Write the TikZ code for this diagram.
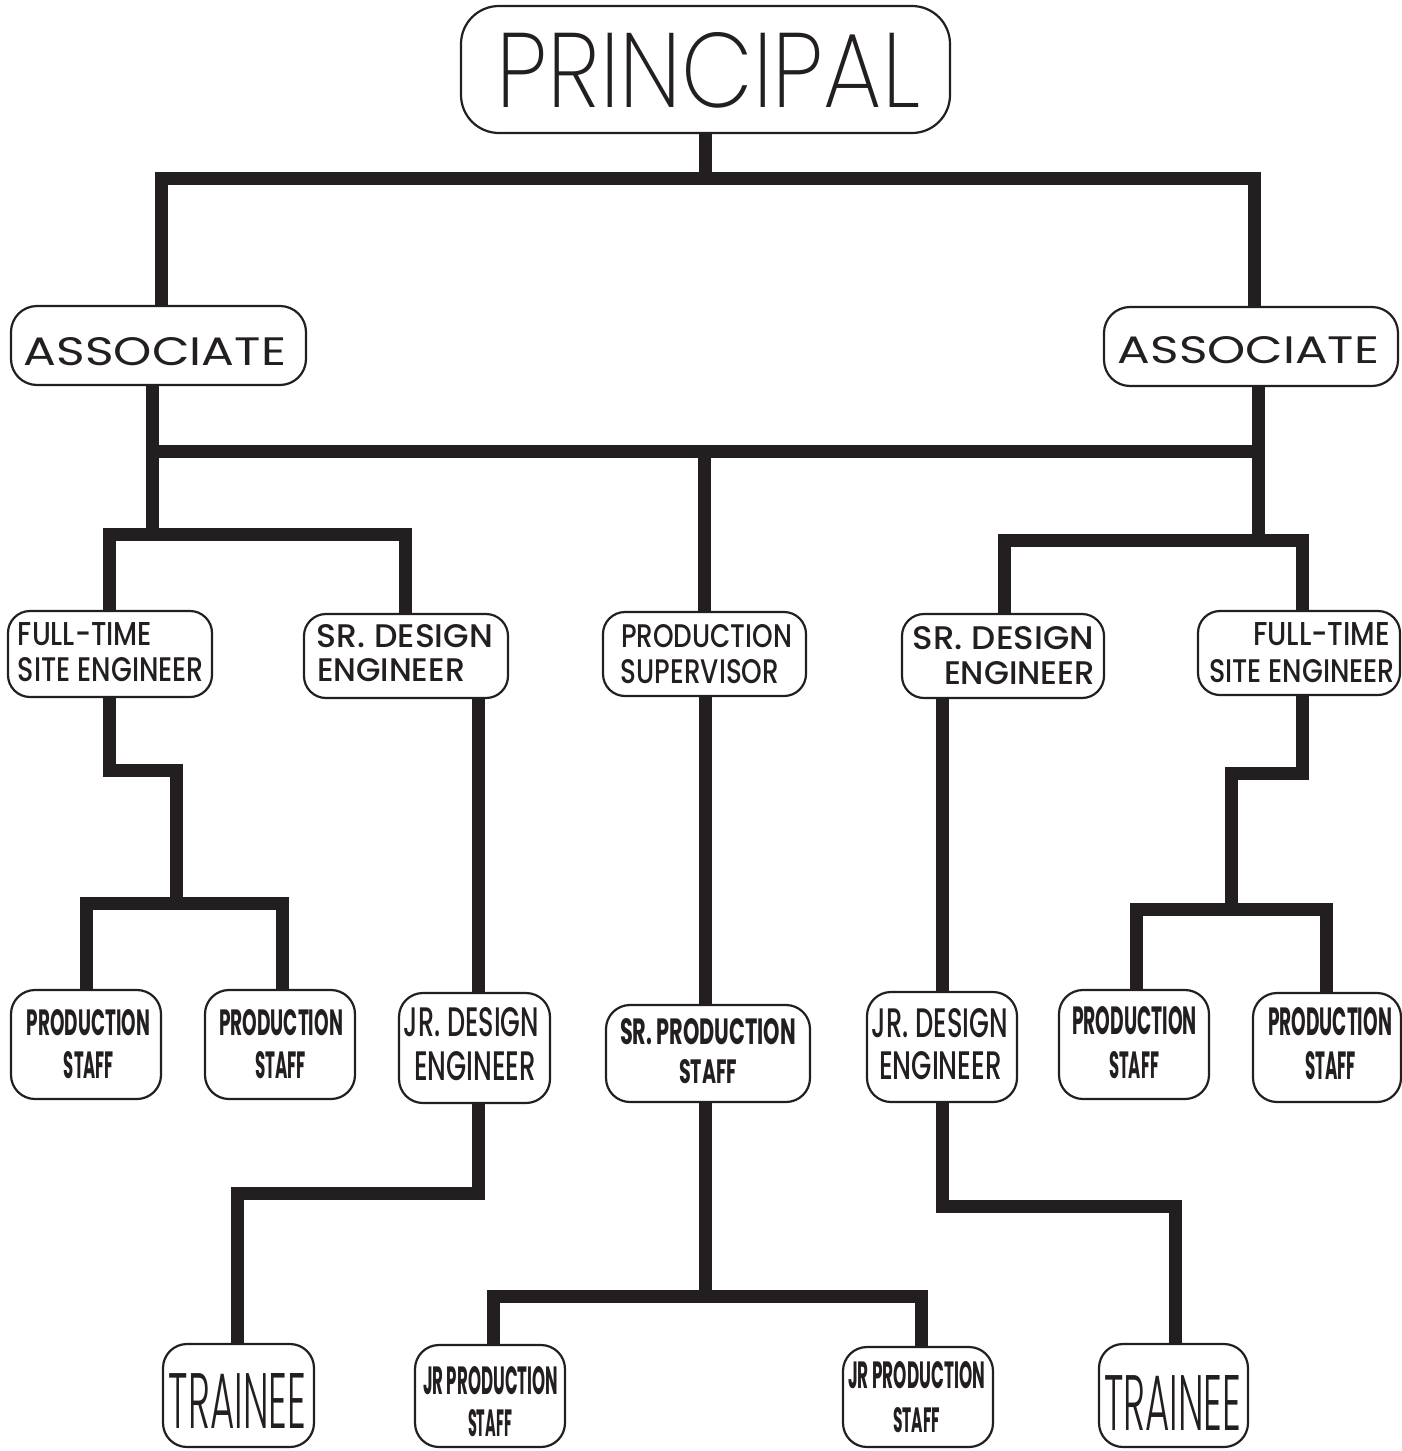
\documentclass[tikz,border=0pt]{standalone}
\usepackage{fontspec}
\setmainfont{Poppins}
\newfontfamily\xlightfont{Poppins ExtraLight}
\newfontfamily\lightfont{Poppins Light}
\newfontfamily\medfont{Poppins Medium}
\usepackage{graphicx}
\definecolor{ink}{HTML}{231F20}
\tikzset{
  conn/.style={line width=13pt, draw=ink, line join=miter},
  box/.style={draw=ink, line width=2.2pt, inner sep=0pt},
}
\newcommand\lbl[6]{\node[inner sep=0pt, text=ink] (#1) at (#2,#3) {\resizebox{#4pt}{#5pt}{#6}};}
\newcommand\bx[6]{\node[box, minimum width=#4pt, minimum height=#5pt, rounded corners=#6pt] (#1) at (#2,#3) {};}
\begin{document}
\begin{tikzpicture}[x=1pt,y=-1pt]
\useasboundingbox (0,0) rectangle (1402,1451);
% boxes
\bx{P}{705.5}{69.5}{489}{127}{38}
\bx{AL}{158.5}{345.5}{295}{79}{26}
\bx{AR}{1251}{346.5}{294}{79}{26}
\bx{FTL}{110}{654}{204}{86}{22}
\bx{SDL}{406}{656}{204}{84}{22}
\bx{PSUP}{704.5}{654}{203}{84}{22}
\bx{SDR}{1003}{656}{202}{84}{22}
\bx{FTR}{1299}{653}{202}{84}{22}
\bx{PS1}{86}{1044.5}{150}{109}{24}
\bx{PS2}{280}{1044.5}{150}{109}{24}
\bx{JDL}{474.5}{1048}{151}{110}{24}
\bx{SPS}{708}{1053.5}{204}{97}{24}
\bx{JDR}{942}{1047}{150}{110}{24}
\bx{PS3}{1134}{1044.5}{150}{109}{24}
\bx{PS4}{1327}{1047.5}{148}{109}{24}
\bx{TRL}{238.5}{1395.5}{151}{103}{24}
\bx{JPL}{490}{1396}{150}{102}{24}
\bx{JPR}{918}{1397}{150}{100}{24}
\bx{TRR}{1173.5}{1395.5}{149}{103}{24}
% labels
\lbl{tP}{708.5}{70.5}{423}{75}{\xlightfont PRINCIPAL}
\lbl{tAL}{155}{352}{262}{28}{ASSOCIATE}
\lbl{tAR}{1248.5}{350.5}{261}{27}{ASSOCIATE}
\lbl{tFTLa}{85}{634.5}{134}{23}{\medfont FULL-TIME}
\lbl{tFTLb}{111}{670}{186}{24}{\medfont SITE ENGINEER}
\lbl{tSDLa}{405}{636.5}{176}{23}{\medfont SR. DESIGN}
\lbl{tSDLb}{391}{670.5}{148}{23}{\medfont ENGINEER}
\lbl{tPSa}{706.5}{636.5}{171}{23}{\medfont PRODUCTION}
\lbl{tPSb}{700}{672}{158}{24}{\medfont SUPERVISOR}
\lbl{tSDRa}{1003.5}{638.5}{181}{23}{\medfont SR. DESIGN}
\lbl{tSDRb}{1019.5}{673.5}{151}{23}{\medfont ENGINEER}
\lbl{tFTRa}{1321.5}{634.5}{137}{23}{\medfont FULL-TIME}
\lbl{tFTRb}{1302}{671.5}{186}{23}{\medfont SITE ENGINEER}
\lbl{tPS1a}{88.5}{1023}{123}{26}{\bfseries PRODUCTION}
\lbl{tPS1b}{89}{1065.5}{50}{27}{\bfseries STAFF}
\lbl{tPS2a}{281}{1023}{124}{26}{\bfseries PRODUCTION}
\lbl{tPS2b}{280.5}{1065.5}{51}{27}{\bfseries STAFF}
\lbl{tJDLa}{471.5}{1022.5}{135}{29}{\medfont JR. DESIGN}
\lbl{tJDLb}{475}{1066.5}{122}{29}{\medfont ENGINEER}
\lbl{tSPSa}{708}{1032}{176}{26}{\bfseries SR. PRODUCTION}
\lbl{tSPSb}{708}{1072}{58}{24}{\bfseries STAFF}
\lbl{tJDRa}{940}{1023.5}{136}{29}{\medfont JR. DESIGN}
\lbl{tJDRb}{940.5}{1066}{123}{28}{\medfont ENGINEER}
\lbl{tPS3a}{1134.5}{1021}{125}{28}{\bfseries PRODUCTION}
\lbl{tPS3b}{1134}{1065.5}{50}{27}{\bfseries STAFF}
\lbl{tPS4a}{1330}{1022}{124}{28}{\bfseries PRODUCTION}
\lbl{tPS4b}{1330.5}{1066}{51}{28}{\bfseries STAFF}
\lbl{tTRL}{237.5}{1400.5}{137}{55}{\lightfont TRAINEE}
\lbl{tJPLa}{490.5}{1381}{135}{28}{\bfseries JR PRODUCTION}
\lbl{tJPLb}{490}{1423.5}{44}{27}{\bfseries STAFF}
\lbl{tJPRa}{916.5}{1375.5}{137}{27}{\bfseries JR PRODUCTION}
\lbl{tJPRb}{916.5}{1420.5}{47}{25}{\bfseries STAFF}
\lbl{tTRR}{1172.5}{1402.5}{137}{55}{\lightfont TRAINEE}
% bend coordinates
\coordinate (t0) at (705,178);
\coordinate (tL) at (161,178);
\coordinate (tR) at (1254,178);
\coordinate (mL) at (152,451);
\coordinate (mC) at (704,451);
\coordinate (mR) at (1258,451);
\coordinate (sL) at (152,534);
\coordinate (sLa) at (109,534);
\coordinate (sLb) at (405,534);
\coordinate (sR) at (1258,540);
\coordinate (sRa) at (1004,540);
\coordinate (sRb) at (1302,540);
\coordinate (f1) at (109,770);
\coordinate (f2) at (176,770);
\coordinate (f3) at (176,903);
\coordinate (f4) at (86,903);
\coordinate (f5) at (282,903);
\coordinate (g1) at (1302,773);
\coordinate (g2) at (1231,773);
\coordinate (g3) at (1231,909);
\coordinate (g4) at (1136,909);
\coordinate (g5) at (1326,909);
\coordinate (d1) at (478,800);
\coordinate (d2) at (705,800);
\coordinate (d3) at (942,800);
\coordinate (e1) at (478,1193);
\coordinate (e2) at (237,1193);
\coordinate (h1) at (705,1296);
\coordinate (h2) at (493,1296);
\coordinate (h3) at (921,1296);
\coordinate (k1) at (942,1206);
\coordinate (k2) at (1175,1206);
% connectors
\draw[conn] (t0 |- P.south) -- (t0);
\draw[conn] (tL |- AL.north) -- (tL) -- (tR) -- (tR |- AR.north);
\draw[conn] (mL |- AL.south) -- (sL);
\draw[conn] (mR |- AR.south) -- (sR);
\draw[conn] (mL) -- (mR);
\draw[conn] (mC) -- (mC |- PSUP.north);
\draw[conn] (sLa |- FTL.north) -- (sLa) -- (sLb) -- (sLb |- SDL.north);
\draw[conn] (sRa |- SDR.north) -- (sRa) -- (sRb) -- (sRb |- FTR.north);
\draw[conn] (f1 |- FTL.south) -- (f1) -- (f2) -- (f3);
\draw[conn] (f4 |- PS1.north) -- (f4) -- (f5) -- (f5 |- PS2.north);
\draw[conn] (g1 |- FTR.south) -- (g1) -- (g2) -- (g3);
\draw[conn] (g4 |- PS3.north) -- (g4) -- (g5) -- (g5 |- PS4.north);
\draw[conn] (d1 |- SDL.south) -- (d1 |- JDL.north);
\draw[conn] (d2 |- PSUP.south) -- (d2 |- SPS.north);
\draw[conn] (d3 |- SDR.south) -- (d3 |- JDR.north);
\draw[conn] (e1 |- JDL.south) -- (e1) -- (e2) -- (e2 |- TRL.north);
\draw[conn] (h1 |- SPS.south) -- (h1);
\draw[conn] (h2 |- JPL.north) -- (h2) -- (h3) -- (h3 |- JPR.north);
\draw[conn] (k1 |- JDR.south) -- (k1) -- (k2) -- (k2 |- TRR.north);
\end{tikzpicture}
\end{document}
